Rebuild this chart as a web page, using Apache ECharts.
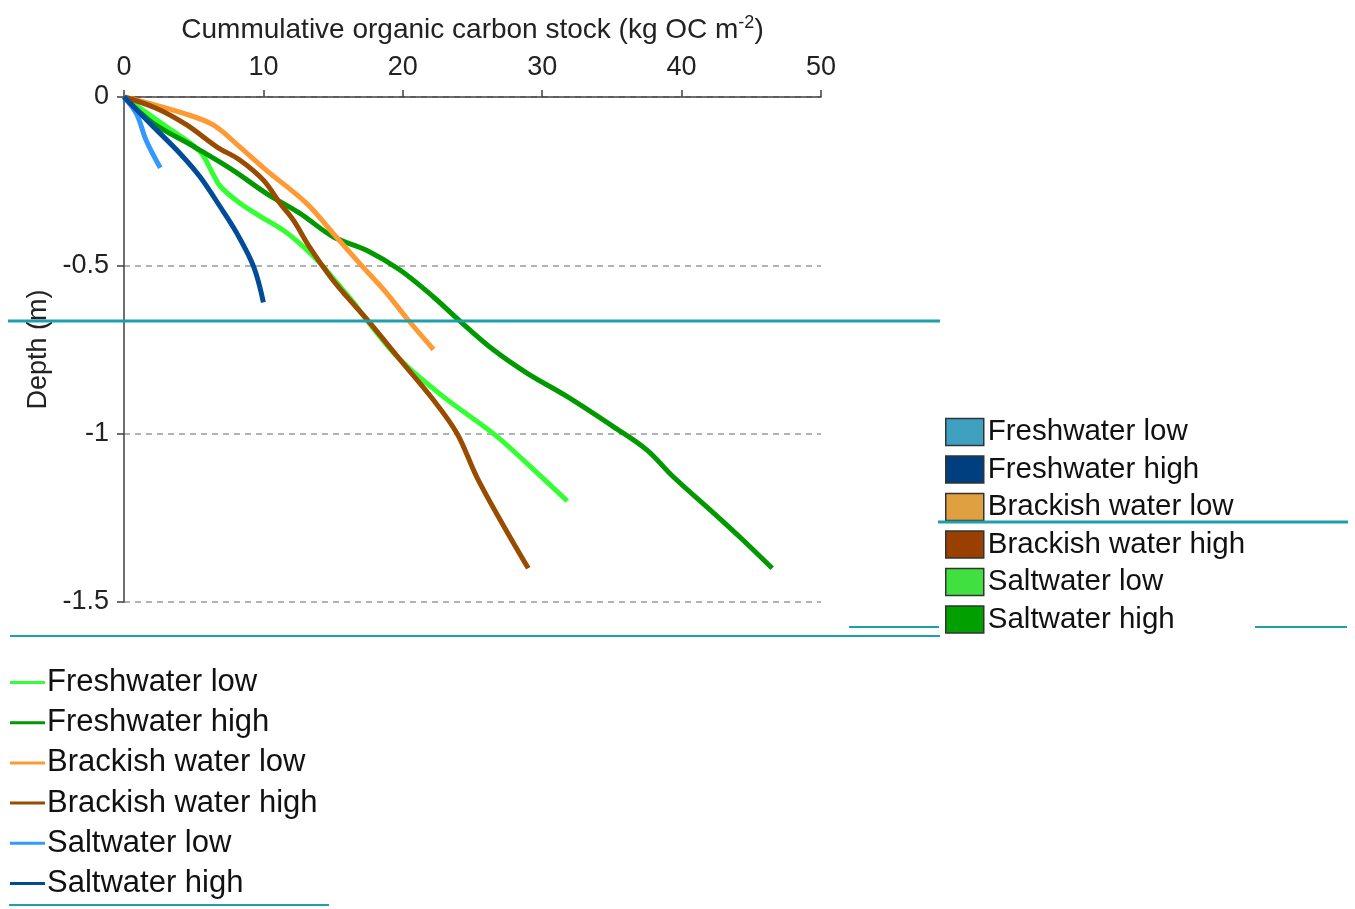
<!DOCTYPE html>
<html>
<head>
<meta charset="utf-8">
<script src="https://cdn.jsdelivr.net/npm/echarts@6/dist/echarts.min.js"></script>
<style>html,body{margin:0;padding:0;background:#fff}#c{width:1355px;height:909px}</style>
</head>
<body>
<div id="c"></div>
<script>
// Series names (as in the line legend)
const seriesNames = ['Freshwater low', 'Freshwater high', 'Brackish water low', 'Brackish water high', 'Saltwater low', 'Saltwater high'];
// Tick values
const xTicks = [0, 10, 20, 30, 40, 50];
const yLabelTicks = [0, -0.5, -1, -1.5];
// [cumulative OC stock (kg OC m-2), depth (m)]
const freshwaterLow = [[0,0],[3.1,-0.09],[5.4,-0.16],[6.4,-0.23],[6.9,-0.265],[8.3,-0.315],[9.8,-0.355],[11.4,-0.395],[12.6,-0.435],[14.1,-0.495],[15.3,-0.553],[16.5,-0.612],[17.4,-0.662],[19.8,-0.78],[22.9,-0.89],[26.5,-1.0],[28.9,-1.088],[31.8,-1.2]];
const freshwaterHigh = [[0,0],[2.1,-0.078],[5.0,-0.147],[7.8,-0.217],[10.2,-0.286],[12.6,-0.345],[15.0,-0.415],[17.4,-0.455],[19.8,-0.514],[22.2,-0.594],[24.0,-0.662],[26.5,-0.751],[28.9,-0.82],[31.8,-0.89],[35.1,-0.979],[37.5,-1.048],[39.4,-1.128],[42.3,-1.236],[44.4,-1.316],[46.5,-1.4]];
const brackishLow = [[0,0],[1.9,-0.02],[4.25,-0.048],[6.4,-0.083],[8.3,-0.148],[10.2,-0.217],[13.1,-0.316],[15.0,-0.405],[16.9,-0.494],[18.85,-0.583],[20.3,-0.658],[22.2,-0.75]];
const brackishHigh = [[0,0],[2.35,-0.034],[4.5,-0.083],[6.65,-0.148],[8.3,-0.187],[10.0,-0.247],[11.2,-0.316],[12.15,-0.366],[13.3,-0.445],[14.8,-0.534],[16.0,-0.594],[17.4,-0.659],[19.8,-0.78],[22.2,-0.9],[23.9,-1.0],[25.3,-1.128],[27.0,-1.257],[29.0,-1.4]];
const saltwaterLow = [[0,0],[0.9,-0.05],[1.6,-0.13],[2.6,-0.21]];
const saltwaterHigh = [[0,0],[2.1,-0.088],[4.0,-0.167],[5.45,-0.237],[6.9,-0.326],[8.1,-0.405],[9.3,-0.504],[10.0,-0.61]];
const seriesData = [freshwaterLow, freshwaterHigh, brackishLow, brackishHigh, saltwaterLow, saltwaterHigh];
const lineColors = ['#33ff33', '#009900', '#ff9933', '#994c00', '#3399ff', '#004c99'];
// Colours of the boxed legend
const boxColors = ['#40a0c0', '#003f7f', '#e0a040', '#993f00', '#40e040', '#00a000'];

const font = 'Liberation Sans, Arial, sans-serif';
const chart = echarts.init(document.getElementById('c'), null, {renderer: 'canvas'});
const teal = '#1f9fab';

chart.setOption({
  animation: false,
  backgroundColor: '#fff',
  grid: {left: 124, top: 97, right: 534, bottom: 307, containLabel: false},
  xAxis: {
    type: 'value', position: 'top', min: 0, max: 50, interval: 10,
    name: '{a|Cummulative organic carbon stock (kg OC m}{s|-2}{a|)}',
    nameLocation: 'middle', nameGap: 51,
    nameTextStyle: {rich: {
      a: {fontFamily: font, fontSize: 28, color: '#222'},
      s: {fontFamily: font, fontSize: 18, color: '#222', verticalAlign: 'top', padding: [0,0,14,0]}
    }},
    axisLine: {show: true, lineStyle: {color: '#404040', width: 1.5}},
    axisTick: {show: true, length: 7, lineStyle: {color: '#404040', width: 1.5}},
    axisLabel: {fontFamily: font, fontSize: 27, color: '#222', margin: 16},
    splitLine: {show: false}
  },
  yAxis: {
    type: 'value', min: -1.5, max: 0, interval: 0.25,
    name: 'Depth (m)', nameLocation: 'middle', nameGap: 72,
    nameTextStyle: {fontFamily: font, fontSize: 27, color: '#222'},
    axisLine: {show: true, lineStyle: {color: '#404040', width: 1.5}},
    axisTick: {show: true, length: 7, customValues: yLabelTicks, lineStyle: {color: '#404040', width: 1.5}},
    axisLabel: {fontFamily: font, fontSize: 27, color: '#222', margin: 15, customValues: yLabelTicks},
    splitLine: {show: true, lineStyle: {color: '#999', type: [6, 5], width: 1.5}}
  },
  legend: [
    {
      orient: 'vertical', left: 10, top: 667, itemGap: 9.2, padding: 0, height: 260,
      itemWidth: 35, itemHeight: 3, selectedMode: false,
      data: seriesNames.map(n => ({name: n, icon: 'rect'})),
      textStyle: {fontFamily: font, fontSize: 31, color: '#111', padding: [0,0,0,-3]}
    },
    {
      orient: 'vertical', left: 945, top: 417, itemGap: 7.5, padding: 0, height: 260,
      itemWidth: 38, itemHeight: 27, selectedMode: false,
      data: seriesNames.map((n, i) => ({name: n, icon: 'rect', itemStyle: {color: boxColors[i], borderColor: '#333', borderWidth: 1.5}})),
      textStyle: {fontFamily: font, fontSize: 29.5, color: '#111', padding: [0,0,0,-1]}
    }
  ],
  series: seriesNames.map((n, i) => ({
    name: n, type: 'line', data: seriesData[i], smooth: 0.35,
    symbol: 'none', showSymbol: false,
    lineStyle: {color: lineColors[i], width: 5},
    itemStyle: {color: lineColors[i]}
  })),
  graphic: [
    {type: 'line', z: 100, shape: {x1: 8, y1: 321, x2: 940, y2: 321}, style: {stroke: teal, lineWidth: 3}},
    {type: 'line', z: 100, shape: {x1: 938, y1: 522, x2: 1348, y2: 522}, style: {stroke: teal, lineWidth: 3}},
    {type: 'line', z: 100, shape: {x1: 10, y1: 636, x2: 940, y2: 636}, style: {stroke: teal, lineWidth: 2}},
    {type: 'line', z: 100, shape: {x1: 849, y1: 627, x2: 939, y2: 627}, style: {stroke: teal, lineWidth: 2}},
    {type: 'line', z: 100, shape: {x1: 1255, y1: 627, x2: 1347, y2: 627}, style: {stroke: teal, lineWidth: 2}},
    {type: 'line', z: 100, shape: {x1: 9, y1: 905, x2: 329, y2: 905}, style: {stroke: teal, lineWidth: 2}}
  ]
});
</script>
</body>
</html>
